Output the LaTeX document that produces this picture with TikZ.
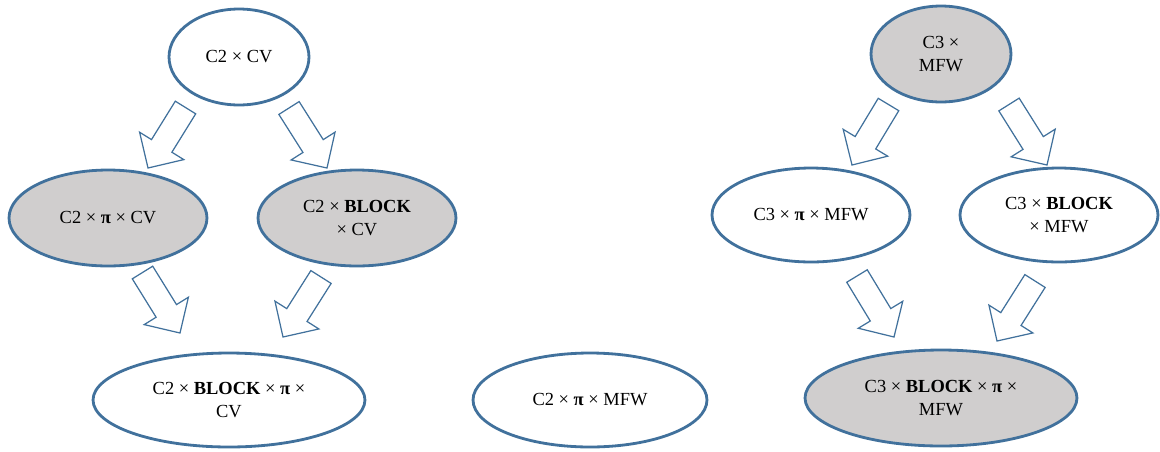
\documentclass[tikz,border=0pt]{standalone}
\usepackage{fontspec}
\setmainfont{Liberation Serif}
\usetikzlibrary{shapes.geometric,calc}
\definecolor{eblue}{RGB}{65,113,156}
\definecolor{egrey}{RGB}{208,206,206}
\newcommand\blockarrow[2]{%
  \draw[barrow] ($(#1)!0.24cm!90:(#2)$)
   -- ($($(#2)!0.52cm!(#1)$)!0.24cm!90:(#2)$)
   -- ($($(#2)!0.52cm!(#1)$)!0.52cm!90:(#2)$)
   -- (#2)
   -- ($($(#2)!0.52cm!(#1)$)!0.52cm!-90:(#2)$)
   -- ($($(#2)!0.52cm!(#1)$)!0.24cm!-90:(#2)$)
   -- ($(#1)!0.24cm!-90:(#2)$) -- cycle;}
\begin{document}
\begin{tikzpicture}[x=0.02cm,y=-0.02cm,
  ell/.style={ellipse,draw=eblue,line width=1.6pt,inner sep=0pt,align=center,
    font=\fontsize{10.5}{13}\selectfont},
  wfill/.style={ell,fill=white},
  gfill/.style={ell,fill=egrey},
  barrow/.style={draw=eblue,line width=0.7pt,fill=white,line join=miter}]
\useasboundingbox (0,0) rectangle (1160,451);
% left group
\node[wfill,minimum width=2.8cm,minimum height=1.92cm] (c2cv) at (239,57) {C2 × CV};
\node[gfill,minimum width=3.96cm,minimum height=1.92cm] (c2pi) at (108,218) {C2 × \textbf{π} × CV};
\node[gfill,minimum width=3.96cm,minimum height=1.92cm] (c2bl) at (357,218) {C2 × \textbf{BLOCK}\\× CV};
\node[wfill,minimum width=5.44cm,minimum height=1.88cm] (c2bp) at (229,400) {C2 × \textbf{BLOCK} × \textbf{π} ×\\CV};
% middle
\node[wfill,minimum width=4.68cm,minimum height=1.88cm] (c2pm) at (590,400) {C2 × \textbf{π} × MFW};
% right group
\node[gfill,minimum width=2.8cm,minimum height=1.92cm] (c3mfw) at (941,54) {C3 ×\\MFW};
\node[wfill,minimum width=3.96cm,minimum height=1.88cm] (c3pi) at (811,215) {C3 × \textbf{π} × MFW};
\node[wfill,minimum width=3.96cm,minimum height=1.88cm] (c3bl) at (1059,215) {C3 × \textbf{BLOCK}\\× MFW};
\node[gfill,minimum width=5.44cm,minimum height=1.92cm] (c3bp) at (941,398) {C3 × \textbf{BLOCK} × \textbf{π} ×\\MFW};
% arrow tails / tips
\coordinate (a1t) at (185.5,107.5); \coordinate (a1h) at (148,168);
\coordinate (a2t) at (289,108);     \coordinate (a2h) at (327,168);
\coordinate (a3t) at (142.5,272.5); \coordinate (a3h) at (180,333);
\coordinate (a4t) at (321,277);     \coordinate (a4h) at (283,337);
\coordinate (a5t) at (888.5,104.5); \coordinate (a5h) at (852,165);
\coordinate (a6t) at (1009,104.5);  \coordinate (a6h) at (1047,165);
\coordinate (a7t) at (857,276);     \coordinate (a7h) at (894,337);
\coordinate (a8t) at (1035,281);    \coordinate (a8h) at (997,341);
\blockarrow{a1t}{a1h}
\blockarrow{a2t}{a2h}
\blockarrow{a3t}{a3h}
\blockarrow{a4t}{a4h}
\blockarrow{a5t}{a5h}
\blockarrow{a6t}{a6h}
\blockarrow{a7t}{a7h}
\blockarrow{a8t}{a8h}
\end{tikzpicture}
\end{document}
